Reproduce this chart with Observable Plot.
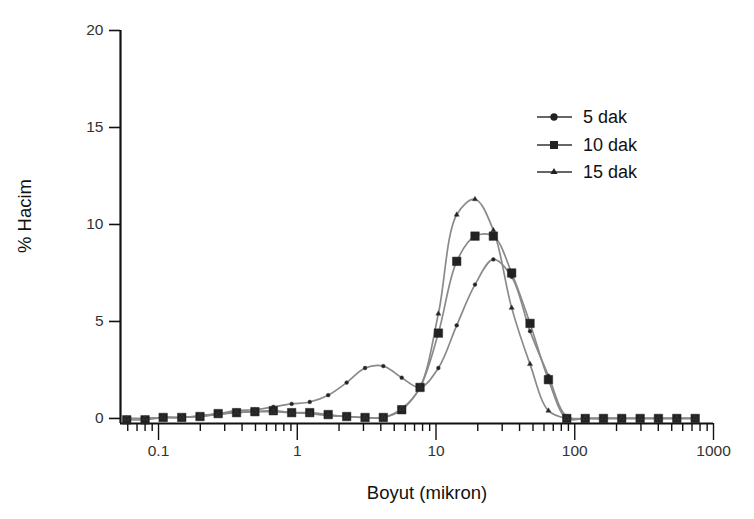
<!DOCTYPE html>
<html><head><meta charset="utf-8">
<script src="https://cdn.jsdelivr.net/npm/d3@7"></script>
<script src="https://cdn.jsdelivr.net/npm/@observablehq/plot@0.6"></script>
<style>
html,body{margin:0;padding:0;background:#fff;}
#wrap{position:relative;width:754px;height:519px;overflow:hidden;}
#legend{position:absolute;left:0;top:0;pointer-events:none;}
</style></head><body><div id="wrap"></div>
<script>
// Particle sizes (micron) of the measurement bins
const sizes = [0.059, 0.080, 0.108, 0.147, 0.199, 0.269, 0.365, 0.495, 0.672, 0.911,
  1.23, 1.67, 2.27, 3.08, 4.17, 5.66, 7.67, 10.4, 14.1, 19.1,
  25.9, 35.1, 47.6, 64.6, 87.6, 119, 161, 218, 296, 401, 544, 738];
// % volume per series
const dak5  = [0, 0, 0.05, 0.05, 0.15, 0.25, 0.4, 0.45, 0.6, 0.75,
  0.85, 1.2, 1.85, 2.6, 2.7, 2.1, 1.6, 2.6, 4.8, 6.9,
  8.2, 7.3, 4.5, 2.2, 0.1, 0, 0, 0, 0, 0, 0, 0];
const dak10 = [-0.07, -0.07, 0.05, 0.05, 0.1, 0.25, 0.3, 0.35, 0.4, 0.3,
  0.3, 0.2, 0.1, 0.05, 0.05, 0.45, 1.6, 4.4, 8.1, 9.4,
  9.4, 7.5, 4.9, 2.0, 0, 0, 0, 0, 0, 0, 0, 0];
const dak15 = [0, 0, 0.05, 0.05, 0.1, 0.2, 0.3, 0.35, 0.35, 0.3,
  0.25, 0.15, 0.1, 0.05, 0.05, 0.5, 1.6, 5.4, 10.5, 11.3,
  9.7, 5.7, 2.8, 0.4, 0, 0, 0, 0, 0, 0, 0, 0];
const seriesNames = ["5 dak", "10 dak", "15 dak"];
const seriesSymbols = ["circle", "square", "triangle"];
const xMajorTicks = [0.1, 1, 10, 100, 1000];
const xMinorTicks = [0.06, 0.07, 0.08, 0.09, 0.2, 0.3, 0.4, 0.5, 0.6, 0.7, 0.8, 0.9,
  2, 3, 4, 5, 6, 7, 8, 9, 20, 30, 40, 50, 60, 70, 80, 90, 200, 300, 400, 500, 600, 700, 800, 900];
const yTicks = [0, 5, 10, 15, 20];
const xTitle = "Boyut (mikron)";
const yTitle = "% Hacim";

const seriesValues = [dak5, dak10, dak15];
const rows = [];
seriesValues.forEach((arr, k) => arr.forEach((v, i) => rows.push({series: seriesNames[k], size: sizes[i], pct: v})));

const xMin = 0.0532, yMin = -0.26;
const font = "'Liberation Sans', Arial, Helvetica, sans-serif";

const dotMarks = seriesNames.map((name, k) => Plot.dot(rows, {
  filter: d => d.series === name,
  x: "size", y: "pct",
  symbol: seriesSymbols[k],
  r: seriesSymbols[k] === "square" ? 4.8 : 1.9,
  fill: "#222", stroke: seriesSymbols[k] === "square" ? "#222" : "#444", strokeWidth: 0.5
}));

const chart = Plot.plot({
  width: 754, height: 519,
  marginLeft: 120, marginRight: 41, marginTop: 30, marginBottom: 96,
  style: {fontFamily: font, background: "#fff", color: "#111"},
  x: {type: "log", domain: [xMin, 1000], label: null},
  y: {domain: [yMin, 20], label: null},
  marks: [
    Plot.axisX(xMinorTicks, {tickSize: 8, tickFormat: () => "", strokeWidth: 1.4, label: null}),
    Plot.axisX(xMajorTicks, {tickSize: 17, tickPadding: 4, tickFormat: d => String(d), fontSize: 15.5, strokeWidth: 1.4, fill: "#333", label: null}),
    Plot.axisY(yTicks, {tickSize: 11, tickPadding: 6, fontSize: 15.5, strokeWidth: 1.6, fill: "#333", label: null}),
    Plot.ruleY([yMin], {stroke: "#111", strokeWidth: 2.2}),
    Plot.ruleX([xMin], {y1: yMin, y2: 20, stroke: "#111", strokeWidth: 2.2}),
    Plot.line(rows, {x: "size", y: "pct", z: "series", curve: "catmull-rom", stroke: "#8a8a8a", strokeWidth: 1.7}),
    ...dotMarks,
    Plot.text([xTitle], {text: d => d, frameAnchor: "bottom", dx: 10, dy: 75, fontSize: 18.5, fill: "#111"}),
    Plot.text([yTitle], {text: d => d, frameAnchor: "left", dx: -95, dy: 26, rotate: -90, fontSize: 18.5, fill: "#111"})
  ]
});
const wrap = document.getElementById("wrap");
wrap.appendChild(chart);

// Legend overlay
const lg = d3.select(wrap).append("svg").attr("id", "legend").attr("width", 754).attr("height", 519);
const rowsY = [117, 145, 172];
seriesNames.forEach((name, k) => {
  const g = lg.append("g").attr("transform", `translate(0,${rowsY[k]})`);
  g.append("line").attr("x1", 537).attr("x2", 572).attr("y1", 0).attr("y2", 0).attr("stroke", "#333").attr("stroke-width", 1.6);
  const sym = seriesSymbols[k] === "circle" ? d3.symbolCircle : seriesSymbols[k] === "square" ? d3.symbolSquare : d3.symbolTriangle;
  const area = seriesSymbols[k] === "circle" ? 42 : seriesSymbols[k] === "square" ? 64 : 22;
  g.append("path").attr("d", d3.symbol(sym, area)()).attr("transform", "translate(554,0)").attr("fill", "#222");
  g.append("text").attr("x", 583).attr("y", 0).attr("dy", "0.35em").attr("font-family", font).attr("font-size", 18).attr("fill", "#111").text(name);
});
</script></body></html>
